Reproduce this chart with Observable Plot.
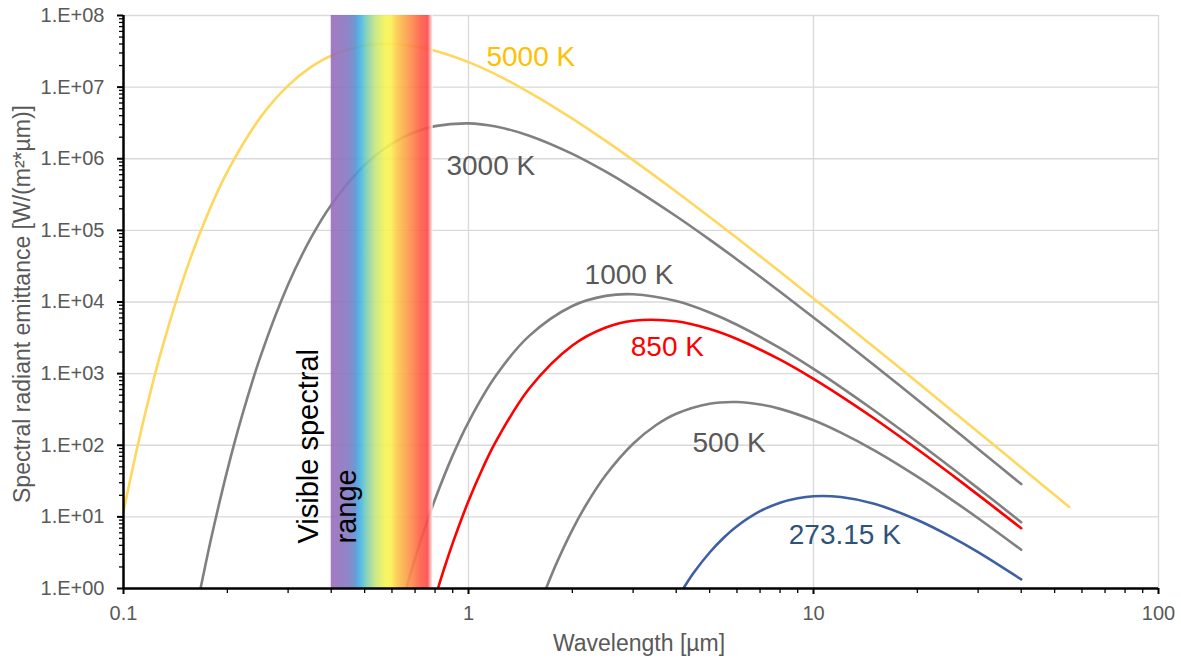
<!DOCTYPE html>
<html><head><meta charset="utf-8">
<script src="https://cdn.jsdelivr.net/npm/d3@7"></script>
<script src="https://cdn.jsdelivr.net/npm/@observablehq/plot@0.6"></script>
<style>body{margin:0;background:#fff} svg{display:block}</style>
</head><body><div id="chart"></div>
<script>
// ---- Data ----
const seriesNames = ["5000 K", "3000 K", "1000 K", "850 K", "500 K", "273.15 K"];

const lambda5000 = [0.1,0.11,0.12,0.13,0.15,0.17,0.2,0.25,0.3,0.35,0.4,0.5,0.6,0.7,0.8,1,1.2,1.5,2,2.5,3,4,5,6,8,10,12,15,20,25,30,40,55];
const value5000  = [11.9,101,579,2456,22970,117400,659600,3.841e6,1.051e7,1.915e7,2.747e7,3.803e7,4.009e7,3.710e7,3.218e7,2.231e7,1.504e7,8.48e6,3.636e6,1.773e6,9.57e5,3.469e5,1.539e5,7.82e4,2.638e4,1.122e4,5549,2330,756,314,153,49,13.8];

const lambda3000 = [0.1672,0.17,0.18,0.2,0.22,0.25,0.3,0.35,0.4,0.5,0.6,0.7,0.8,1,1.2,1.5,2,2.5,3,4,5,6,8,10,12,15,20,25,30,40];
const value3000  = [1.0,1.47,5.31,45.0,247,1786,17560,79730,2.268e5,8.176e5,1.626e6,2.358e6,2.852e6,3.118e6,2.815e6,2.100e6,1.169e6,6.59e5,3.90e5,1.577e5,7.44e4,3.93e4,1.390e4,6080,3061,1308,431.5,181,88.8,28.7];

const lambda1000 = [0.6595,0.7,0.75,0.8,0.9,1,1.2,1.5,2,2.5,3,4,5,6,8,10,12,15,20,25,30,40];
const value1000  = [1.0,2.64,7.35,17.65,72.2,211,933,3364,8789,12170,12830,10296,7139,4812,2266,1164,649,306,111,49.2,25.0,8.44];

const lambda850 = [0.8155,0.85,0.9,1,1.1,1.2,1.5,2,2.5,3,4,5,6,8,10,12,15,20,25,30,40];
const value850  = [1.0,1.89,4.30,16.66,48.2,112.5,619,2468,4399,5478,5386,4197,3046,1565,844,485,236,87.8,39.6,20.3,6.94];

const lambda500 = [1.678,1.8,2,2.2,2.5,3,3.5,4,5,6,7,8,10,12,15,20,25,30,40];
const value500  = [1.0,2.26,6.60,15.15,38.4,105,191.5,275,380,401,371,322,223,150,84.8,36.4,17.7,9.57,3.47];

const lambda273 = [4.195,4.5,5,5.5,6,7,8,9,10,12,15,20,25,30,40];
const value273  = [1.0,1.67,3.18,5.15,7.41,12.0,15.8,18.25,19.4,18.9,15.2,9.05,5.31,3.22,1.34];

// Visible range (µm)
const visibleRange = [0.4, 0.79];

// Tick values and labels
const yMajor = [1, 10, 100, 1e3, 1e4, 1e5, 1e6, 1e7, 1e8];
const yTickLabels = ["1.E+00","1.E+01","1.E+02","1.E+03","1.E+04","1.E+05","1.E+06","1.E+07","1.E+08"];
const xMajor = [0.1, 1, 10, 100];
const xTickLabels = ["0.1", "1", "10", "100"];

// Curve labels (anchor in data units)
const labelText   = ["5000 K", "3000 K", "1000 K", "850 K", "500 K", "273.15 K"];
const labelLambda = [1.127, 0.863, 2.17, 2.953, 4.46, 8.48];
const labelValue  = [2.61e7, 7.83e5, 2.41e4, 2323, 109, 5.62];

// ---- Styles ----
const lineColors  = {"5000 K": "#ffd75e", "3000 K": "#808080", "1000 K": "#808080", "850 K": "#ff0000", "500 K": "#808080", "273.15 K": "#3d5fa3"};
const labelColors = {"5000 K": "#ffc000", "3000 K": "#595959", "1000 K": "#595959", "850 K": "#ff0000", "500 K": "#595959", "273.15 K": "#2e5379"};
const axisTextColor = "#595959";
const FONT = "'Liberation Sans', Arial, Helvetica, sans-serif";

// ---- Build tidy tables ----
const seriesArrays = [
  [lambda5000, value5000], [lambda3000, value3000], [lambda1000, value1000],
  [lambda850, value850], [lambda500, value500], [lambda273, value273]
];
const curves = seriesNames.map((name, k) => ({
  name,
  rows: seriesArrays[k][0].map((l, i) => ({lambda: l, value: seriesArrays[k][1][i]}))
}));
const labels = labelText.map((t, i) => ({text: t, x: labelLambda[i], y: labelValue[i]}));
const band = [{x1: visibleRange[0], x2: visibleRange[1], y1: yMajor[0], y2: yMajor[yMajor.length - 1]}];

const yMinor = [];
for (let d = 0; d < 8; d++) for (let m = 2; m <= 9; m++) yMinor.push(m * Math.pow(10, d));
const xMinor = [];
for (let d = -1; d < 2; d++) for (let m = 2; m <= 9; m++) xMinor.push(+(m * Math.pow(10, d)).toPrecision(3));

const drawOrder = ["3000 K", "1000 K", "500 K", "5000 K", "850 K", "273.15 K"];

const chart = Plot.plot({
  width: 1181,
  height: 660,
  marginLeft: 123,
  marginRight: 23,
  marginTop: 15,
  marginBottom: 72,
  style: {fontFamily: FONT, background: "#fff", color: axisTextColor, overflow: "visible"},
  x: {type: "log", domain: [0.1, 100]},
  y: {type: "log", domain: [1, 1e8]},
  marks: [
    Plot.gridY(yMajor, {stroke: "#d9d9d9", strokeOpacity: 1, strokeWidth: 1.3}),
    Plot.gridX([1, 10, 100], {stroke: "#d9d9d9", strokeOpacity: 1, strokeWidth: 1.3}),
    ...drawOrder.map(name => {
      const c = curves.find(s => s.name === name);
      return Plot.line(c.rows, {x: "lambda", y: "value", stroke: lineColors[name], strokeWidth: 2.6, curve: "catmull-rom", clip: true});
    }),
    Plot.rect(band, {x1: "x1", x2: "x2", y1: "y1", y2: "y2", fill: "url(#spectrum)", fillOpacity: 0.9}),
    Plot.axisY(yMinor, {tickSize: 4, tickFormat: () => "", stroke: "#000", strokeWidth: 1.3, label: null}),
    Plot.axisY(yMajor, {tickSize: 6, tickPadding: 13, tickFormat: d => yTickLabels[yMajor.indexOf(d)], fontSize: 20, fill: axisTextColor, stroke: "#000", strokeWidth: 2, label: null}),
    Plot.axisX(xMinor, {tickSize: 5, tickFormat: () => "", stroke: "#000", strokeWidth: 1.3, label: null}),
    Plot.axisX(xMajor, {tickSize: 6, tickPadding: 11, tickFormat: d => xTickLabels[xMajor.indexOf(d)], fontSize: 20, fill: axisTextColor, stroke: "#000", strokeWidth: 2, label: null}),
    Plot.ruleX([0.1], {stroke: "#000", strokeWidth: 2.5}),
    Plot.ruleY([1], {stroke: "#000", strokeWidth: 2.5}),
    ...labels.map(l => Plot.text([l], {x: "x", y: "y", text: "text", fill: labelColors[l.text], fontSize: 28, textAnchor: "start"})),
    Plot.text(["Visible spectral"], {x: 0.344, y: 4.25, text: d => d, rotate: -90, textAnchor: "start", fontSize: 29, fill: "#000"}),
    Plot.text(["range"], {x: 0.445, y: 4.25, text: d => d, rotate: -90, textAnchor: "start", fontSize: 29, fill: "#000"}),
    Plot.text(["Spectral radiant emittance [W/(m²*µm)]"], {frameAnchor: "left", textAnchor: "middle", lineAnchor: "middle", dx: -101, dy: 2, rotate: -90, fontSize: 23, fill: axisTextColor}),
    Plot.text(["Wavelength [µm]"], {frameAnchor: "bottom", textAnchor: "middle", lineAnchor: "middle", dx: -2, dy: 55, fontSize: 23, fill: axisTextColor})
  ]
});

const defs = d3.select(chart).insert("defs", ":first-child");
const grad = defs.append("linearGradient").attr("id", "spectrum").attr("x1", "0").attr("x2", "1").attr("y1", "0").attr("y2", "0");
[
  [0.00, "#9a6cba"], [0.16, "#8577c0"], [0.24, "#5b8fd0"], [0.29, "#40b4e4"],
  [0.35, "#7ccdb4"], [0.44, "#c8e67a"], [0.54, "#f8f450"], [0.59, "#faf050"],
  [0.65, "#fcc84a"], [0.75, "#fd9c4a"], [0.88, "#fe5d48"], [0.95, "#ff4848"], [1.00, "#ffffff"]
].forEach(([o, c]) => grad.append("stop").attr("offset", o).attr("stop-color", c));

document.getElementById("chart").appendChild(chart);
</script>
</body></html>
